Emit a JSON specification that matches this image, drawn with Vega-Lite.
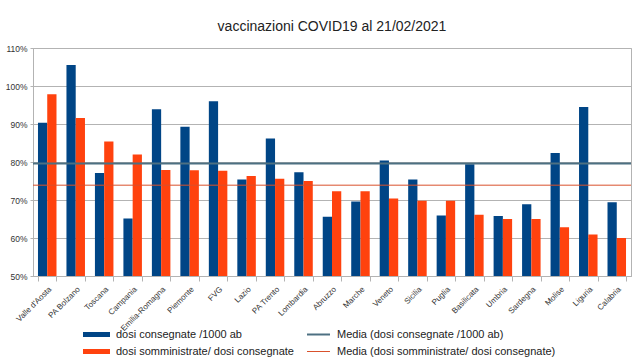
{
  "$schema": "https://vega.github.io/schema/vega-lite/v6.json",
  "width": 598,
  "height": 228,
  "autosize": {"type": "none"},
  "padding": {"left": 33, "top": 48, "right": 12, "bottom": 85},
  "background": "white",
  "title": {"text": "vaccinazioni COVID19 al 21/02/2021", "font": "Liberation Sans", "fontSize": 14, "fontWeight": "normal", "color": "#222", "anchor": "middle", "offset": 10},
  "config": {
    "view": {"stroke": "#b3b3b3", "strokeWidth": 1},
    "font": "Liberation Sans"
  },
  "datasets": {
    "bars": [
      {"regione": "Valle d'Aosta", "serie": "dosi consegnate /1000 ab", "v": 0.903},
      {"regione": "Valle d'Aosta", "serie": "dosi somministrate/ dosi consegnate", "v": 0.978},
      {"regione": "PA Bolzano", "serie": "dosi consegnate /1000 ab", "v": 1.055},
      {"regione": "PA Bolzano", "serie": "dosi somministrate/ dosi consegnate", "v": 0.916},
      {"regione": "Toscana", "serie": "dosi consegnate /1000 ab", "v": 0.771},
      {"regione": "Toscana", "serie": "dosi somministrate/ dosi consegnate", "v": 0.854},
      {"regione": "Campania", "serie": "dosi consegnate /1000 ab", "v": 0.651},
      {"regione": "Campania", "serie": "dosi somministrate/ dosi consegnate", "v": 0.820},
      {"regione": "Emilia-Romagna", "serie": "dosi consegnate /1000 ab", "v": 0.939},
      {"regione": "Emilia-Romagna", "serie": "dosi somministrate/ dosi consegnate", "v": 0.779},
      {"regione": "Piemonte", "serie": "dosi consegnate /1000 ab", "v": 0.893},
      {"regione": "Piemonte", "serie": "dosi somministrate/ dosi consegnate", "v": 0.778},
      {"regione": "FVG", "serie": "dosi consegnate /1000 ab", "v": 0.960},
      {"regione": "FVG", "serie": "dosi somministrate/ dosi consegnate", "v": 0.777},
      {"regione": "Lazio", "serie": "dosi consegnate /1000 ab", "v": 0.754},
      {"regione": "Lazio", "serie": "dosi somministrate/ dosi consegnate", "v": 0.763},
      {"regione": "PA Trento", "serie": "dosi consegnate /1000 ab", "v": 0.862},
      {"regione": "PA Trento", "serie": "dosi somministrate/ dosi consegnate", "v": 0.756},
      {"regione": "Lombardia", "serie": "dosi consegnate /1000 ab", "v": 0.773},
      {"regione": "Lombardia", "serie": "dosi somministrate/ dosi consegnate", "v": 0.750},
      {"regione": "Abruzzo", "serie": "dosi consegnate /1000 ab", "v": 0.656},
      {"regione": "Abruzzo", "serie": "dosi somministrate/ dosi consegnate", "v": 0.723},
      {"regione": "Marche", "serie": "dosi consegnate /1000 ab", "v": 0.696},
      {"regione": "Marche", "serie": "dosi somministrate/ dosi consegnate", "v": 0.723},
      {"regione": "Veneto", "serie": "dosi consegnate /1000 ab", "v": 0.804},
      {"regione": "Veneto", "serie": "dosi somministrate/ dosi consegnate", "v": 0.704},
      {"regione": "Sicilia", "serie": "dosi consegnate /1000 ab", "v": 0.754},
      {"regione": "Sicilia", "serie": "dosi somministrate/ dosi consegnate", "v": 0.698},
      {"regione": "Puglia", "serie": "dosi consegnate /1000 ab", "v": 0.659},
      {"regione": "Puglia", "serie": "dosi somministrate/ dosi consegnate", "v": 0.698},
      {"regione": "Basilicata", "serie": "dosi consegnate /1000 ab", "v": 0.794},
      {"regione": "Basilicata", "serie": "dosi somministrate/ dosi consegnate", "v": 0.661},
      {"regione": "Umbria", "serie": "dosi consegnate /1000 ab", "v": 0.658},
      {"regione": "Umbria", "serie": "dosi somministrate/ dosi consegnate", "v": 0.650},
      {"regione": "Sardegna", "serie": "dosi consegnate /1000 ab", "v": 0.689},
      {"regione": "Sardegna", "serie": "dosi somministrate/ dosi consegnate", "v": 0.650},
      {"regione": "Molise", "serie": "dosi consegnate /1000 ab", "v": 0.824},
      {"regione": "Molise", "serie": "dosi somministrate/ dosi consegnate", "v": 0.628},
      {"regione": "Liguria", "serie": "dosi consegnate /1000 ab", "v": 0.945},
      {"regione": "Liguria", "serie": "dosi somministrate/ dosi consegnate", "v": 0.609},
      {"regione": "Calabria", "serie": "dosi consegnate /1000 ab", "v": 0.694},
      {"regione": "Calabria", "serie": "dosi somministrate/ dosi consegnate", "v": 0.600}
    ],
    "medie": [
      {"serie": "Media (dosi consegnate /1000 ab)", "v": 0.796},
      {"serie": "Media (dosi somministrate/ dosi consegnate)", "v": 0.739}
    ]
  },
  "encoding": {
    "y": {
      "field": "v", "type": "quantitative",
      "scale": {"domain": [0.5, 1.1], "zero": false, "nice": false},
      "axis": {"title": null, "format": ".0%", "values": [0.5, 0.6, 0.7, 0.8, 0.9, 1.0, 1.1], "tickCount": 7, "labelOverlap": false, "labelFontSize": 8.5, "labelColor": "#333", "gridColor": "#b3b3b3", "tickColor": "#b3b3b3", "tickSize": 3, "domainColor": "#b3b3b3", "labelPadding": 3}
    }
  },
  "layer": [
    {
      "data": {"name": "bars"},
      "mark": {"type": "bar", "clip": true},
      "encoding": {
        "x": {
          "field": "regione", "type": "nominal", "sort": null,
          "scale": {"paddingInner": 0.35, "paddingOuter": 0.175},
          "axis": {"title": null, "labelAngle": -45, "labelFontSize": 8, "labelColor": "#333", "tickBand": "extent", "ticks": true, "tickSize": 5, "tickColor": "#b3b3b3", "domainColor": "#b3b3b3", "labelPadding": 4}
        },
        "xOffset": {"field": "serie", "type": "nominal", "sort": null},
        "fill": {
          "field": "serie", "type": "nominal", "sort": null,
          "scale": {"domain": ["dosi consegnate /1000 ab", "dosi somministrate/ dosi consegnate"], "range": ["#004586", "#ff420e"]},
          "legend": {"title": null, "orient": "none", "legendX": 58, "legendY": 281, "symbolType": "M-3,-0.55H3V0.55H-3Z", "symbolSize": 81, "symbolStrokeWidth": 0, "labelFontSize": 11, "labelColor": "#222", "labelOffset": 14, "labelLimit": 400, "rowPadding": 5}
        }
      }
    },
    {
      "data": {"name": "medie"},
      "mark": {"type": "rule"},
      "encoding": {
        "stroke": {
          "field": "serie", "type": "nominal", "sort": null,
          "scale": {"domain": ["Media (dosi consegnate /1000 ab)", "Media (dosi somministrate/ dosi consegnate)"], "range": ["#4d7082", "#d9512c"]},
          "legend": {"title": null, "orient": "none", "legendX": 280, "legendY": 281, "symbolType": "M-2.55,0H2.55", "symbolSize": 81, "symbolStrokeWidth": 1.3, "labelFontSize": 11, "labelColor": "#222", "labelOffset": 13, "labelLimit": 400, "rowPadding": 5}
        },
        "strokeWidth": {
          "field": "serie", "type": "nominal", "sort": null,
          "scale": {"domain": ["Media (dosi consegnate /1000 ab)", "Media (dosi somministrate/ dosi consegnate)"], "range": [2, 1]},
          "legend": null
        }
      }
    }
  ]
}
